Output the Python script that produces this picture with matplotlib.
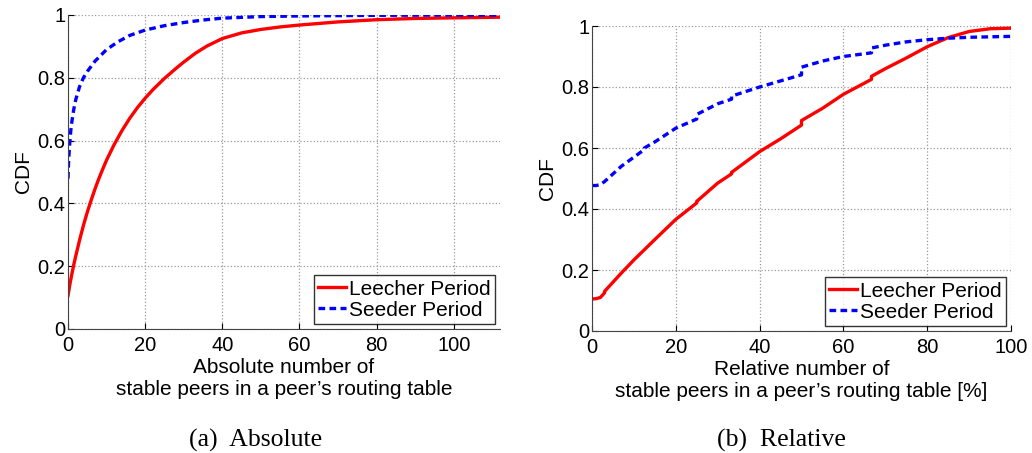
import matplotlib
matplotlib.use("Agg")
import matplotlib.pyplot as plt

plt.rcParams['font.family'] = ['Liberation Sans', 'DejaVu Sans']

# (a) absolute number of stable peers
absX_leech = [0, 0.5, 1, 1.5, 2, 3, 4, 5, 6, 7, 8, 9, 10, 12, 14, 16, 18, 20, 22, 25, 28, 30, 33, 36, 40, 45, 50, 55, 60, 70, 80, 90, 100, 112]
absY_leech = [0.106, 0.143, 0.175, 0.205, 0.232, 0.283, 0.33, 0.372, 0.41, 0.446, 0.479, 0.509, 0.538, 0.588, 0.632, 0.671, 0.705, 0.735, 0.762, 0.798, 0.83, 0.85, 0.878, 0.901, 0.925, 0.943, 0.954, 0.962, 0.968, 0.978, 0.985, 0.989, 0.991, 0.993]
absX_seed = [0, 0.15, 0.3, 0.5, 0.75, 1, 1.5, 2, 3, 4, 5, 7, 10, 13, 16, 20, 25, 30, 35, 40, 50, 60, 80, 100, 112]
absY_seed = [0.479, 0.53, 0.565, 0.60, 0.635, 0.66, 0.70, 0.73, 0.772, 0.80, 0.82, 0.853, 0.89, 0.915, 0.935, 0.952, 0.966, 0.976, 0.984, 0.99, 0.995, 0.997, 0.999, 1.0, 1.0]

# (b) relative number of stable peers [%]
relX_leech = [0, 1, 2, 3, 3, 5, 7, 10, 15, 20, 25, 25, 30, 33.3, 33.3, 40, 45, 50, 50, 55, 60, 66.7, 66.7, 70, 75, 80, 85, 90, 95, 100]
relY_leech = [0.105, 0.106, 0.11, 0.125, 0.13, 0.16, 0.19, 0.233, 0.30, 0.366, 0.42, 0.425, 0.485, 0.515, 0.52, 0.588, 0.63, 0.675, 0.69, 0.73, 0.776, 0.825, 0.835, 0.86, 0.895, 0.932, 0.962, 0.982, 0.991, 0.993]
relX_seed = [0, 1, 2, 3, 5, 7, 10, 12.5, 12.5, 15, 20, 25, 25, 30, 33.3, 33.3, 40, 45, 50, 50, 55, 60, 66.7, 66.7, 70, 75, 80, 85, 90, 100]
relY_seed = [0.477, 0.477, 0.48, 0.49, 0.515, 0.54, 0.57, 0.595, 0.60, 0.62, 0.665, 0.695, 0.71, 0.745, 0.76, 0.77, 0.80, 0.82, 0.84, 0.865, 0.885, 0.90, 0.912, 0.928, 0.937, 0.948, 0.955, 0.96, 0.963, 0.966]

fig = plt.figure(figsize=(10.32, 4.53), dpi=100)
W, H = 1032.0, 453.0
ax1 = fig.add_axes([68 / W, 1 - 329 / H, (500 - 68) / W, (329 - 15) / H])
ax2 = fig.add_axes([592 / W, 1 - 331 / H, (1011 - 592) / W, (331 - 26) / H])

panels = [
    (ax1, absX_leech, absY_leech, absX_seed, absY_seed, 112,
     "Absolute number of\nstable peers in a peer\u2019s routing table", "(a)  Absolute", 256),
    (ax2, relX_leech, relY_leech, relX_seed, relY_seed, 100,
     "Relative number of\nstable peers in a peer\u2019s routing table [%]", "(b)  Relative", 781),
]

for ax, xl, yl, xs, ys, xmax, xlabel, caption, capx in panels:
    ax.plot(xl, yl, color='#ff0000', lw=2.4, label='Leecher Period')
    ax.plot(xs, ys, color='#0000ff', lw=2.4, ls=(0, (2.0, 1.3)), label='Seeder Period')
    ax.set_xlim(0, xmax)
    ax.set_ylim(0, 1)
    ax.set_xticks([0, 20, 40, 60, 80, 100])
    ax.set_yticks([0, 0.2, 0.4, 0.6, 0.8, 1])
    ax.set_yticklabels(['0', '0.2', '0.4', '0.6', '0.8', '1'])
    ax.grid(True, ls=':', color='#999999', lw=0.9)
    ax.tick_params(direction='in', labelsize=14.5, length=4)
    ax.tick_params(axis='x', pad=5)
    ax.tick_params(axis='y', pad=2)
    for s in ['top', 'right']:
        ax.spines[s].set_visible(False)
    for s in ['left', 'bottom']:
        ax.spines[s].set_color('#444444')
    ax.set_ylabel('CDF', fontsize=15, labelpad=3)
    ax.set_xlabel(xlabel, fontsize=15, labelpad=2, linespacing=1.2)
    leg = ax.legend(loc='lower right', fontsize=15, frameon=True, fancybox=False,
                    edgecolor='black', handlelength=1.35, handletextpad=0.15,
                    borderpad=0.2, labelspacing=0.1, borderaxespad=0.25)
    leg.get_frame().set_linewidth(1.0)
    fig.text(capx / W, 1 - 440 / H, caption, ha='center', va='center',
             fontsize=18.5, family=['Liberation Serif', 'DejaVu Serif'])

fig.savefig('out.png', dpi=100)
